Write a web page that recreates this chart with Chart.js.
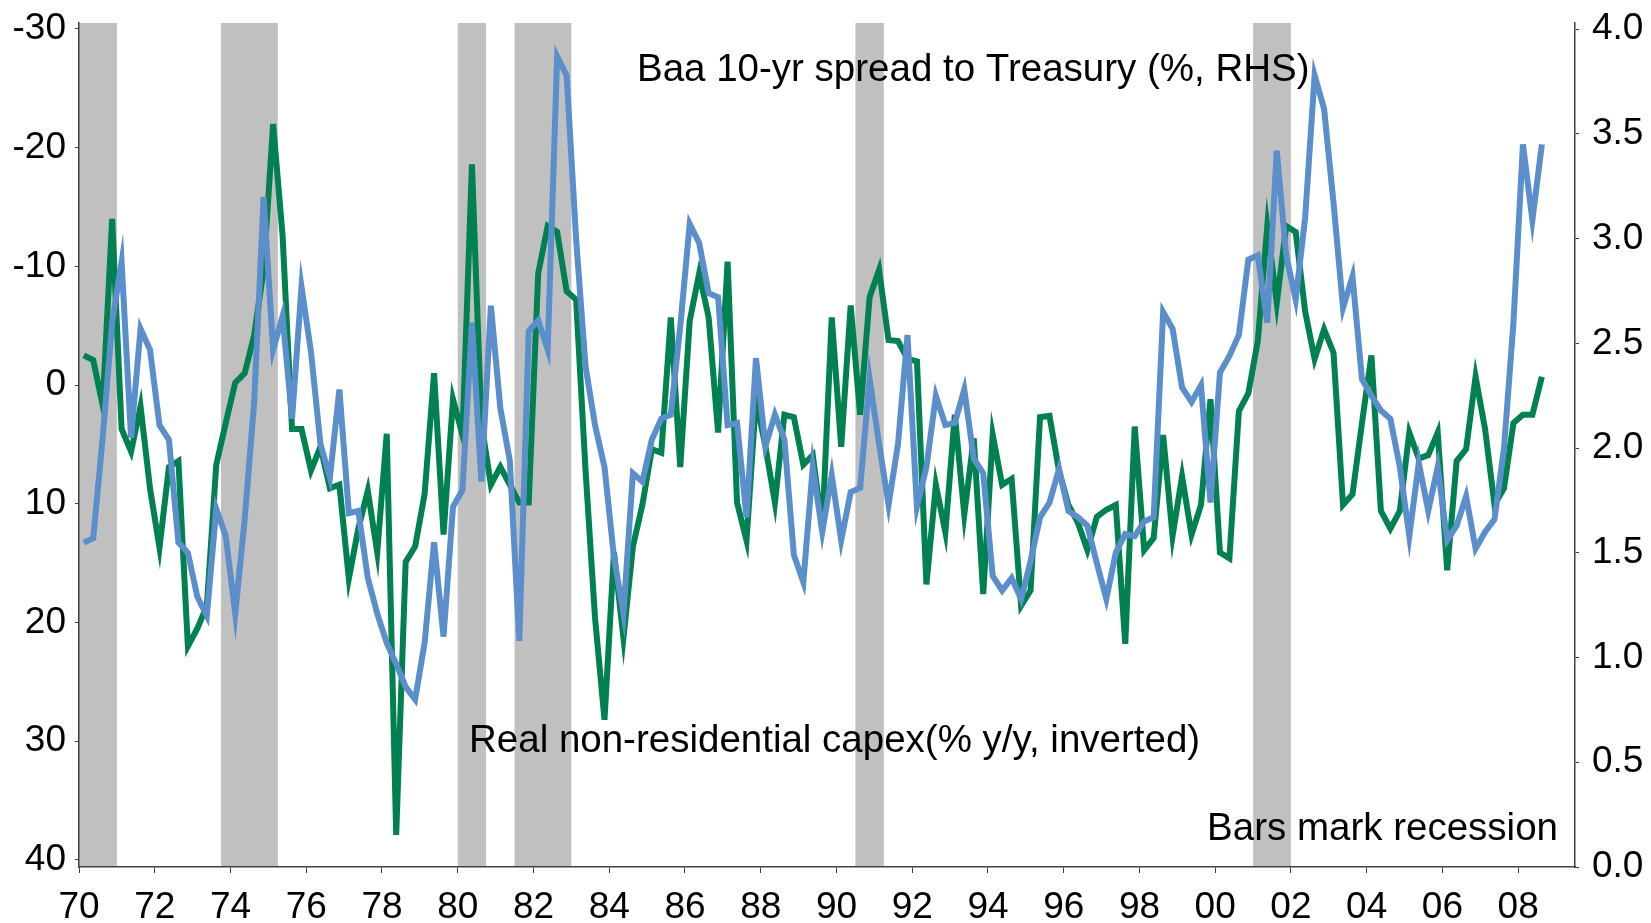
<!DOCTYPE html>
<html>
<head>
<meta charset="utf-8">
<title>Capex vs Baa spread</title>
<script src="https://cdn.jsdelivr.net/npm/chart.js@4.4.1/dist/chart.umd.min.js"></script>
<style>
    html, body { margin: 0; padding: 0; background: #fff; }
    #contenedor { width: 1651px; height: 923px; }
</style>
</head>
<body>
<div id="contenedor"><canvas id="grafico" width="1651" height="923"></canvas></div>
<script>
// trimestres desde 1970T1 (punto al centro del trimestre)
const anioInicio = 1970.125;
const pasoTrimestre = 0.25;

// capex real no residencial, % a/a (eje izquierdo invertido)
const capex = [
    -2.5, -2.1, 1.7, -14.0, 3.7, 5.6, 1.8, 8.7, 13.7, 6.9, 6.4, 22.0,
    20.5, 18.6, 6.7, 3.2, -0.2, -1.0, -4.2, -9.7, -22.0, -12.6, 3.7, 3.7,
    7.2, 5.2, 8.7, 8.4, 16.3, 12.1, 8.9, 14.1, 4.1, 37.9, 14.9, 13.6,
    9.2, -1.0, 12.6, 1.2, 4.2, -18.6, 3.2, 8.4, 6.9, 8.4, 9.9, 9.9,
    -9.4, -13.4, -12.9, -7.9, -7.2, 7.2, 19.6, 28.2, 14.1, 21.3, 13.6, 10.1,
    5.4, 5.7, -5.7, 6.9, -5.4, -9.4, -5.7, 4.0, -10.4, 9.9, 13.1, 1.2,
    5.2, 9.9, 2.5, 2.7, 6.7, 5.9, 12.1, -5.7, 5.2, -6.7, 2.5, -7.4,
    -9.7, -3.8, -3.7, -2.2, -2.0, 16.8, 8.4, 12.4, 2.5, 10.9, 4.5, 17.6,
    4.2, 8.4, 7.9, 18.6, 17.3, 2.7, 2.6, 7.2, 10.1, 11.6, 13.9, 11.1,
    10.5, 10.1, 21.8, 3.5, 13.9, 12.9, 4.2, 12.7, 7.7, 12.6, 10.1, 1.2,
    14.1, 14.6, 2.2, 0.7, -3.7, -13.4, -6.9, -13.4, -12.9, -6.2, -2.2, -4.7,
    -2.7, 10.1, 9.2, 3.2, -2.5, 10.6, 12.1, 10.6, 4.0, 6.2, 5.9, 4.0,
    15.6, 6.4, 5.4, -0.7, 3.7, 10.1, 8.7, 3.2, 2.5, 2.5, -0.7
];

// diferencial Baa vs Tesoro 10 años, % (eje derecho)
const diferencial = [
    1.55, 1.57, 2.05, 2.60, 2.89, 2.05, 2.57, 2.47, 2.11, 2.04, 1.55, 1.50,
    1.29, 1.20, 1.71, 1.58, 1.21, 1.66, 2.22, 3.20, 2.47, 2.63, 2.14, 2.77,
    2.46, 2.02, 1.86, 2.28, 1.69, 1.70, 1.38, 1.21, 1.07, 0.97, 0.86, 0.80,
    1.07, 1.55, 1.10, 1.72, 1.80, 2.60, 1.84, 2.68, 2.19, 1.94, 1.08, 2.56,
    2.61, 2.47, 3.87, 3.78, 3.00, 2.39, 2.11, 1.91, 1.48, 1.21, 1.88, 1.84,
    2.04, 2.14, 2.16, 2.58, 3.07, 2.98, 2.74, 2.72, 2.11, 2.12, 1.67, 2.43,
    2.01, 2.16, 2.04, 1.49, 1.36, 1.91, 1.60, 1.87, 1.56, 1.79, 1.81, 2.33,
    2.02, 1.73, 2.02, 2.54, 1.72, 1.91, 2.25, 2.11, 2.12, 2.28, 1.95, 1.88,
    1.39, 1.32, 1.38, 1.28, 1.46, 1.67, 1.74, 1.90, 1.70, 1.67, 1.63, 1.45,
    1.28, 1.50, 1.59, 1.58, 1.65, 1.67, 2.65, 2.57, 2.29, 2.22, 2.30, 1.74,
    2.36, 2.44, 2.54, 2.90, 2.92, 2.60, 3.42, 2.92, 2.71, 3.10, 3.78, 3.62,
    3.17, 2.67, 2.82, 2.33, 2.25, 2.18, 2.14, 1.91, 1.58, 1.93, 1.70, 1.91,
    1.56, 1.63, 1.77, 1.52, 1.60, 1.66, 2.00, 2.60, 3.45, 3.09, 3.45
];

// recesiones (inicio / fin en años)
const recesionInicio = [1970.0, 1973.75, 1980.0, 1981.5, 1990.5, 2001.0];
const recesionFin = [1971.0, 1975.25, 1980.75, 1983.0, 1991.25, 2002.0];

// etiquetas de ejes
const ticksX = [1970, 1972, 1974, 1976, 1978, 1980, 1982, 1984, 1986, 1988,
    1990, 1992, 1994, 1996, 1998, 2000, 2002, 2004, 2006, 2008];
const ticksIzq = [-30, -20, -10, 0, 10, 20, 30, 40];
const ticksDer = [0, 0.5, 1.0, 1.5, 2.0, 2.5, 3.0, 3.5, 4.0];

const fuente = "'Liberation Sans', Arial, sans-serif";
const colorEje = '#404040';

function aPuntos(valores) {
    return valores.map((v, i) => ({ x: anioInicio + i * pasoTrimestre, y: v }));
}

// ancho fijo del eje y sin el relleno extra que Chart.js reserva para las etiquetas
function fijarAncho(ancho) {
    return (scale) => {
        scale.width = ancho;
        scale.paddingTop = 0;
        scale.paddingBottom = 0;
    };
}

const sombrasRecesion = {
    id: 'sombrasRecesion',
    beforeDraw(chart) {
        const { ctx, chartArea, scales } = chart;
        ctx.save();
        ctx.fillStyle = '#c0c0c0';
        recesionInicio.forEach((ini, i) => {
            const x1 = scales.x.getPixelForValue(ini);
            const x2 = scales.x.getPixelForValue(recesionFin[i]);
            ctx.fillRect(x1, chartArea.top, x2 - x1, chartArea.bottom - chartArea.top);
        });
        ctx.restore();
    }
};

const textos = {
    id: 'textos',
    afterDraw(chart) {
        const ctx = chart.ctx;
        ctx.save();
        ctx.fillStyle = '#000';
        ctx.font = '38.5px ' + fuente;
        ctx.textBaseline = 'middle';
        ctx.textAlign = 'left';
        ctx.fillText('Baa 10-yr spread to Treasury (%, RHS)', 637, 70);
        ctx.fillText('Real non-residential capex(% y/y, inverted)', 469, 741);
        ctx.textAlign = 'right';
        ctx.fillText('Bars mark recession', 1558, 829);
        ctx.restore();
    }
};

const ctx = document.getElementById('grafico').getContext('2d');
new Chart(ctx, {
    type: 'line',
    data: {
        datasets: [
            {
                label: 'Baa 10-yr spread to Treasury (%, RHS)',
                data: aPuntos(diferencial),
                yAxisID: 'yDer',
                borderColor: '#5b8fcb',
                borderWidth: 6,
                pointRadius: 0,
                tension: 0,
                order: 0
            },
            {
                label: 'Real non-residential capex (% y/y, inverted)',
                data: aPuntos(capex),
                yAxisID: 'yIzq',
                borderColor: '#00814f',
                borderWidth: 6,
                pointRadius: 0,
                tension: 0,
                order: 1
            }
        ]
    },
    options: {
        responsive: false,
        animation: false,
        layout: { padding: { top: 23, left: 0, right: 0, bottom: 0 } },
        plugins: {
            legend: { display: false },
            tooltip: { enabled: false }
        },
        scales: {
            x: {
                type: 'linear',
                min: 1970,
                max: 2009.5,
                afterBuildTicks: (scale) => { scale.ticks = ticksX.map(v => ({ value: v })); },
                afterFit: (scale) => {
                    scale.height = 56;
                    scale.paddingLeft = 0;
                    scale.paddingRight = 0;
                },
                ticks: {
                    color: '#000',
                    font: { family: fuente, size: 37 },
                    padding: 13,
                    maxRotation: 0,
                    autoSkip: false,
                    callback: (v) => String(v % 100).padStart(2, '0')
                },
                grid: { drawOnChartArea: false, drawTicks: true, tickLength: 6, tickColor: colorEje },
                border: { color: colorEje, width: 1.5 }
            },
            yIzq: {
                type: 'linear',
                position: 'left',
                reverse: true,
                min: -30.5,
                max: 40.6,
                afterBuildTicks: (scale) => { scale.ticks = ticksIzq.map(v => ({ value: v })); },
                afterFit: fijarAncho(79),
                ticks: {
                    color: '#000',
                    font: { family: fuente, size: 37 },
                    padding: 9
                },
                grid: { drawOnChartArea: false, drawTicks: true, tickLength: 4, tickColor: colorEje },
                border: { color: colorEje, width: 1.5 }
            },
            yDer: {
                type: 'linear',
                position: 'right',
                min: 0,
                max: 4.03,
                afterBuildTicks: (scale) => { scale.ticks = ticksDer.map(v => ({ value: v })); },
                afterFit: fijarAncho(76),
                ticks: {
                    color: '#000',
                    font: { family: fuente, size: 37 },
                    padding: 13,
                    callback: (v) => v.toFixed(1)
                },
                grid: { drawOnChartArea: false, drawTicks: true, tickLength: 4, tickColor: colorEje },
                border: { color: colorEje, width: 1.5 }
            }
        }
    },
    plugins: [sombrasRecesion, textos]
});
</script>
</body>
</html>
